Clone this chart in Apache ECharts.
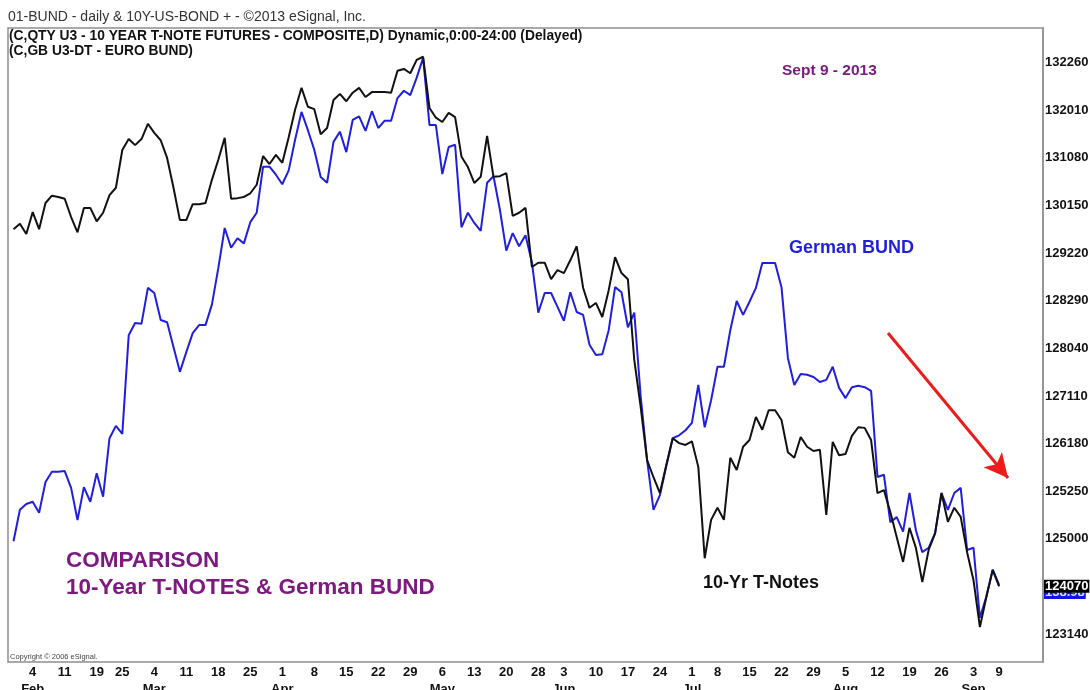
<!DOCTYPE html>
<html><head><meta charset="utf-8">
<script src="https://cdn.jsdelivr.net/npm/echarts@6/dist/echarts.min.js"></script>
<style>html,body{margin:0;padding:0;background:#fff}#c{width:1090px;height:690px}</style>
</head><body><div id="c"></div>
<script>
// Trading days (US T-Note futures session calendar), Jan 30 - Sep 9, 2013
const tradeDates = [
 '1/30','1/31',
 '2/1','2/4','2/5','2/6','2/7','2/8','2/11','2/12','2/13','2/14','2/15','2/19','2/20','2/21','2/22','2/25','2/26','2/27','2/28',
 '3/1','3/4','3/5','3/6','3/7','3/8','3/11','3/12','3/13','3/14','3/15','3/18','3/19','3/20','3/21','3/22','3/25','3/26','3/27','3/28','3/29',
 '4/1','4/2','4/3','4/4','4/5','4/8','4/9','4/10','4/11','4/12','4/15','4/16','4/17','4/18','4/19','4/22','4/23','4/24','4/25','4/26','4/29','4/30',
 '5/1','5/2','5/3','5/6','5/7','5/8','5/9','5/10','5/13','5/14','5/15','5/16','5/17','5/20','5/21','5/22','5/23','5/24','5/28','5/29','5/30','5/31',
 '6/3','6/4','6/5','6/6','6/7','6/10','6/11','6/12','6/13','6/14','6/17','6/18','6/19','6/20','6/21','6/24','6/25','6/26','6/27','6/28',
 '7/1','7/2','7/3','7/5','7/8','7/9','7/10','7/11','7/12','7/15','7/16','7/17','7/18','7/19','7/22','7/23','7/24','7/25','7/26','7/29','7/30','7/31',
 '8/1','8/2','8/5','8/6','8/7','8/8','8/9','8/12','8/13','8/14','8/15','8/16','8/19','8/20','8/21','8/22','8/23','8/26','8/27','8/28','8/29','8/30',
 '9/3','9/4','9/5','9/6','9/9'
];
const monthNames = ['Jan','Feb','Mar','Apr','May','Jun','Jul','Aug','Sep','Oct','Nov','Dec'];

// 10 Year T-Note futures (QTY U3), daily close, decimal points
const tnoteClose = [
 130.08,130.17,130.00,130.36,130.08,130.51,130.63,130.61,130.58,130.28,
 130.03,130.43,130.43,130.21,130.35,130.64,130.76,131.38,131.56,131.46,
 131.56,131.81,131.66,131.54,131.25,130.76,130.23,130.23,130.49,130.49,
 130.51,130.89,131.22,131.58,130.58,130.59,130.61,130.67,130.81,131.28,
 131.15,131.30,131.17,131.59,132.04,132.40,132.09,132.05,131.64,131.74,
 132.20,132.30,132.18,132.32,132.40,132.25,132.33,132.33,132.33,132.32,
 132.68,132.71,132.64,132.86,132.91,132.07,131.91,131.84,131.99,131.92,
 131.27,131.10,130.84,130.94,131.61,130.94,130.95,131.00,130.30,130.35,
 130.43,129.46,129.53,129.53,129.26,129.41,129.36,129.57,129.80,129.12,
 128.79,128.87,128.64,129.08,129.62,129.36,129.26,127.93,127.16,126.29,
 126.01,125.75,126.21,126.65,126.57,126.54,126.60,126.18,124.68,125.31,
 125.51,125.31,126.33,126.13,126.51,126.62,127.00,126.79,127.11,127.11,
 126.95,126.42,126.33,126.67,126.51,126.44,126.46,125.39,126.59,126.37,
 126.39,126.69,126.83,126.82,126.62,125.75,125.80,125.44,125.03,124.62,
 125.18,124.85,124.29,124.82,125.09,125.75,125.28,125.51,125.36,124.78,
 124.32,123.55,124.04,124.49,124.21875
];

// Euro Bund futures (GB U3), daily close
const bundClose = [
 139.58,140.01,140.09,140.12,139.97,140.39,140.53,140.53,140.54,140.31,
 139.87,140.32,140.12,140.51,140.19,140.99,141.16,141.05,142.40,142.57,
 142.56,143.05,142.98,142.61,142.58,142.24,141.90,142.17,142.43,142.54,
 142.54,142.82,143.32,143.87,143.60,143.73,143.66,143.95,144.08,144.71,
 144.71,144.60,144.47,144.66,145.08,145.46,145.21,144.94,144.57,144.49,
 145.05,145.19,144.91,145.35,145.40,145.20,145.47,145.24,145.34,145.34,
 145.65,145.75,145.69,145.93,146.20,145.28,145.28,144.61,144.98,145.01,
 143.88,144.08,143.94,143.83,144.49,144.58,144.12,143.56,143.80,143.62,
 143.77,143.40,142.71,142.98,142.98,142.79,142.60,142.99,142.72,142.68,
 142.27,142.13,142.14,142.47,143.06,142.99,142.51,142.71,141.56,140.69,
 140.01,140.21,140.61,140.99,141.03,141.10,141.20,141.72,141.14,141.51,
 141.97,141.97,142.47,142.87,142.68,142.86,143.05,143.39,143.39,143.39,
 143.06,142.09,141.72,141.87,141.86,141.83,141.76,141.79,141.97,141.68,
 141.54,141.69,141.71,141.69,141.64,140.46,140.49,139.84,139.91,139.71,
 140.24,139.73,139.43,139.49,139.69,140.24,140.01,140.24,140.31,139.46,
 139.49,138.53,138.82,139.19,138.98
];

// Right price axis ticks (T-Note, steps of 25/32)
const yTickValues = [123.4375,124.21875,125.0,125.78125,126.5625,127.34375,128.125,128.90625,129.6875,130.46875,131.25,132.03125,132.8125];

// Red trend arrow annotation: [trading-day index, T-Note price]
const arrowFrom = [136.64, 128.377];
const arrowTo = [155.39, 125.997];

function fmt32(v) {
  const w = Math.floor(v + 1e-9);
  const f = (v - w) * 32;
  const t = Math.floor(f + 1e-6);
  const r = Math.min(9, Math.floor((f - t) * 10 + 1e-6));
  return w + String(t).padStart(2, '0') + String(r);
}

const parsed = tradeDates.map(s => { const [m, d] = s.split('/').map(Number); return { m, d, wd: new Date(2013, m - 1, d).getDay() }; });
const weekStarts = [];
for (let i = 1; i < parsed.length; i++) if (parsed[i].wd < parsed[i - 1].wd) weekStarts.push(i);
const labelMap = {};
let prevM = null;
weekStarts.forEach(i => { const p = parsed[i]; labelMap[i] = p.d + (p.m !== prevM ? '\n' + monthNames[p.m - 1] : ''); prevM = p.m; });

const FONT = 'Liberation Sans';
const PURPLE = '#7d1a80';
const BLUE = '#1f1fdc';
const lastT = tnoteClose[tnoteClose.length - 1];
const lastB = bundClose[bundClose.length - 1];

const chart = echarts.init(document.getElementById('c'), null, { renderer: 'canvas' });
chart.setOption({
  animation: false,
  backgroundColor: '#fff',
  grid: { left: 8, right: 47, top: 28, bottom: 28, show: true, borderColor: '#8f8f8f', borderWidth: 1.5,
          containLabel: false, outerBoundsMode: 'none' },
  xAxis: {
    type: 'value', min: -0.86, max: 160.86,
    axisLine: { show: false, onZero: false }, axisTick: { show: false }, splitLine: { show: false },
    axisLabel: {
      customValues: weekStarts,
      formatter: v => labelMap[Math.round(v)] || '',
      color: '#111', fontFamily: FONT, fontWeight: 'bold', fontSize: 13, lineHeight: 17, margin: 2
    }
  },
  yAxis: [
    {
      type: 'value', position: 'right', min: 122.978, max: 133.382,
      axisLine: { show: true, onZero: false, lineStyle: { color: '#8f8f8f', width: 1.5 } },
      axisTick: { show: false }, splitLine: { show: false },
      axisLabel: { customValues: yTickValues, formatter: fmt32, color: '#111', fontFamily: FONT, fontWeight: 'bold', fontSize: 13, margin: 2 }
    },
    { type: 'value', show: false, min: 137.925, max: 146.61, axisLine: { onZero: false } }
  ],
  series: [
    {
      name: 'Euro Bund', type: 'line', yAxisIndex: 1, showSymbol: false, silent: true,
      lineStyle: { color: BLUE, width: 2 },
      data: bundClose.map((v, i) => [i, v]),
      markLine: {
        silent: true, symbol: ['none', 'none'],
        data: [{ yAxis: lastB, lineStyle: { color: 'rgba(0,0,0,0)', width: 0 },
          label: { show: true, position: 'end', distance: 1, verticalAlign: 'top', formatter: lastB.toFixed(2), backgroundColor: '#1414e6', color: '#d8e0ff',
            fontFamily: FONT, fontWeight: 'bold', fontSize: 13, padding: [1, 1, 0, 1] } }]
      }
    },
    {
      name: '10 Year T-Note', type: 'line', showSymbol: false, silent: true,
      lineStyle: { color: '#111', width: 2 },
      data: tnoteClose.map((v, i) => [i, v]),
      markLine: {
        silent: true, symbol: ['none', 'none'],
        data: [
          [ { coord: arrowFrom, symbol: 'none', lineStyle: { color: '#ec1c1c', width: 3, type: 'solid' }, label: { show: false } },
            { coord: arrowTo, symbol: 'arrow', symbolSize: [18, 24] } ],
          { yAxis: lastT, lineStyle: { color: 'rgba(0,0,0,0)', width: 0 },
            label: { show: true, position: 'end', distance: 1, formatter: fmt32(lastT), backgroundColor: '#000', color: '#fff',
              fontFamily: FONT, fontWeight: 'bold', fontSize: 13, padding: [0, 1] } }
        ]
      }
    }
  ],
  graphic: [
    { type: 'text', left: 8, top: 10, style: { text: '01-BUND - daily & 10Y-US-BOND + - ©2013 eSignal, Inc.', font: '14px "Liberation Sans"', fill: '#333' } },
    { type: 'text', left: 9, top: 29, style: { text: '(C,QTY U3 - 10 YEAR T-NOTE FUTURES - COMPOSITE,D) Dynamic,0:00-24:00 (Delayed)', font: 'bold 13.8px "Liberation Sans"', fill: '#111' } },
    { type: 'text', left: 9, top: 44, style: { text: '(C,GB U3-DT - EURO BUND)', font: 'bold 13.8px "Liberation Sans"', fill: '#111' } },
    { type: 'text', left: 782, top: 63, style: { text: 'Sept 9 - 2013', font: 'bold 15.5px "Liberation Sans"', fill: PURPLE } },
    { type: 'text', left: 789, top: 239, style: { text: 'German BUND', font: 'bold 18px "Liberation Sans"', fill: BLUE } },
    { type: 'text', left: 703, top: 574, style: { text: '10-Yr T-Notes', font: 'bold 18px "Liberation Sans"', fill: '#111' } },
    { type: 'text', left: 66, top: 549, style: { text: 'COMPARISON', font: 'bold 22.5px "Liberation Sans"', fill: PURPLE } },
    { type: 'text', left: 66, top: 576, style: { text: '10-Year T-NOTES & German BUND', font: 'bold 22.5px "Liberation Sans"', fill: PURPLE } },
    { type: 'text', left: 10, top: 653, style: { text: 'Copyright © 2006 eSignal.', font: '7.5px "Liberation Sans"', fill: '#444' } }
  ]
});
</script></body></html>
